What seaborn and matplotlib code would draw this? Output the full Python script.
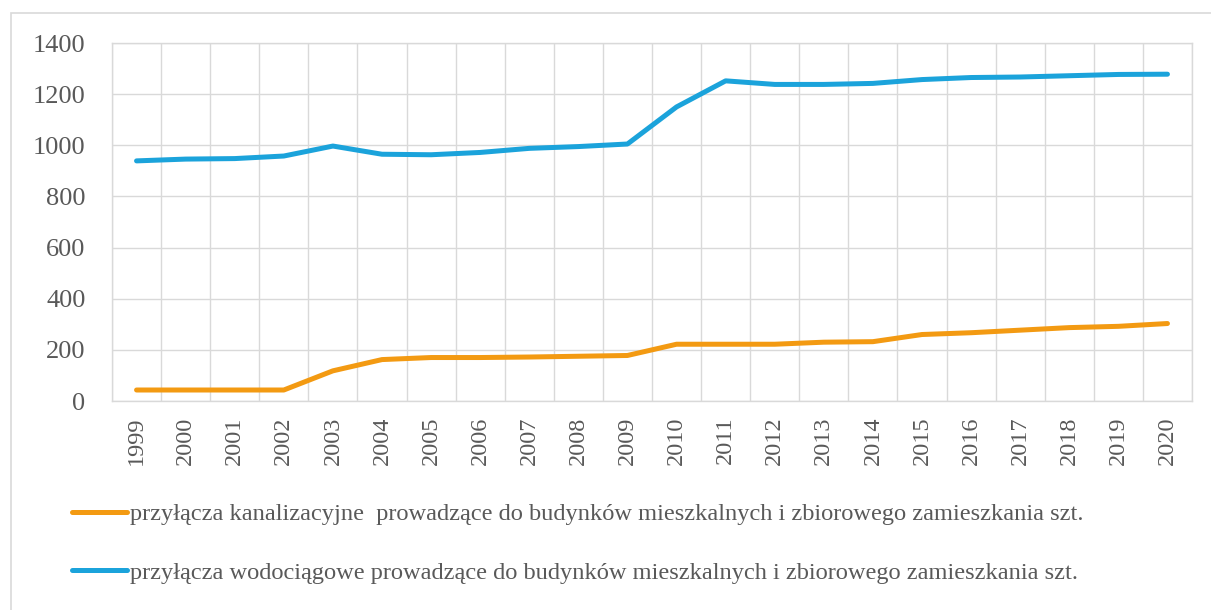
import matplotlib
matplotlib.use("Agg")
import matplotlib.pyplot as plt
import seaborn as sns
import pandas as pd
from matplotlib.patches import Rectangle
from matplotlib.ticker import FixedLocator

years = [str(y) for y in range(1999, 2021)]
kanal = [43, 43, 43, 43, 118, 162, 170, 170, 172, 175, 178, 222, 222, 222, 230, 232, 260, 267, 277, 287, 292, 303]
wodoc = [939, 946, 948, 958, 997, 965, 963, 972, 988, 995, 1005, 1150, 1252, 1238, 1238, 1242, 1257, 1265, 1267, 1272, 1277, 1278]
label_k = "przyłącza kanalizacyjne  prowadzące do budynków mieszkalnych i zbiorowego zamieszkania szt."
label_w = "przyłącza wodociągowe prowadzące do budynków mieszkalnych i zbiorowego zamieszkania szt."
yticks = [0, 200, 400, 600, 800, 1000, 1200, 1400]

df = pd.DataFrame({
    "rok": years * 2,
    "wartosc": kanal + wodoc,
    "seria": [label_k] * len(years) + [label_w] * len(years),
})

sns.set_theme(style="white")
plt.rcParams['font.family'] = ['Liberation Serif', 'DejaVu Serif']
text_color = "#595959"
grid_color = "#D9D9D9"

fig = plt.figure(figsize=(12.11, 6.10), dpi=100)
ax = fig.add_axes([112/1211, 1 - 401/610, (1192-112)/1211, (401-43)/610])

palette = {label_k: "#F39A12", label_w: "#1BA3DB"}
sns.lineplot(data=df, x="rok", y="wartosc", hue="seria", hue_order=[label_k, label_w],
             palette=palette, linewidth=3.6, ax=ax, sort=False, legend=True)

ax.set_xlim(-0.5, len(years) - 0.5)
ax.set_ylim(0, 1400)
ax.set_yticks(yticks)
ax.set_yticklabels([str(v) for v in yticks])
ax.xaxis.set_minor_locator(FixedLocator([i + 0.5 for i in range(-1, len(years))]))
ax.set_xticks(range(len(years)))
ax.set_xticklabels(years, rotation=90)
ax.grid(False)
ax.grid(True, axis="y", which="major", color=grid_color, linewidth=1.0)
ax.grid(True, axis="x", which="minor", color=grid_color, linewidth=1.0)
ax.set_axisbelow(True)
for s in ax.spines.values():
    s.set_visible(True)
    s.set_color(grid_color)
    s.set_linewidth(1.0)
ax.tick_params(axis="both", which="both", length=0, colors=text_color)
ax.tick_params(axis="y", labelsize=19, pad=19)
ax.tick_params(axis="x", labelsize=17.5, pad=11)
ax.set_xlabel("")
ax.set_ylabel("")

handles, labels = ax.get_legend_handles_labels()
ax.get_legend().remove()
leg = fig.legend(handles, labels, loc="upper left", bbox_to_anchor=(72/1211, 1 - 503/610),
                 frameon=False, fontsize=17.6, handlelength=2.25, handletextpad=0.12,
                 labelspacing=1.49, borderaxespad=0, borderpad=0)
for t in leg.get_texts():
    t.set_color(text_color)
for l in leg.get_lines():
    l.set_linewidth(3.6)

fig.patches.append(Rectangle((11/1211, -0.05), 1.2, 1 - 13/610 + 0.05, transform=fig.transFigure,
                             fill=False, edgecolor=grid_color, linewidth=1.2))

fig.savefig("out.png", dpi=100, facecolor="white")
